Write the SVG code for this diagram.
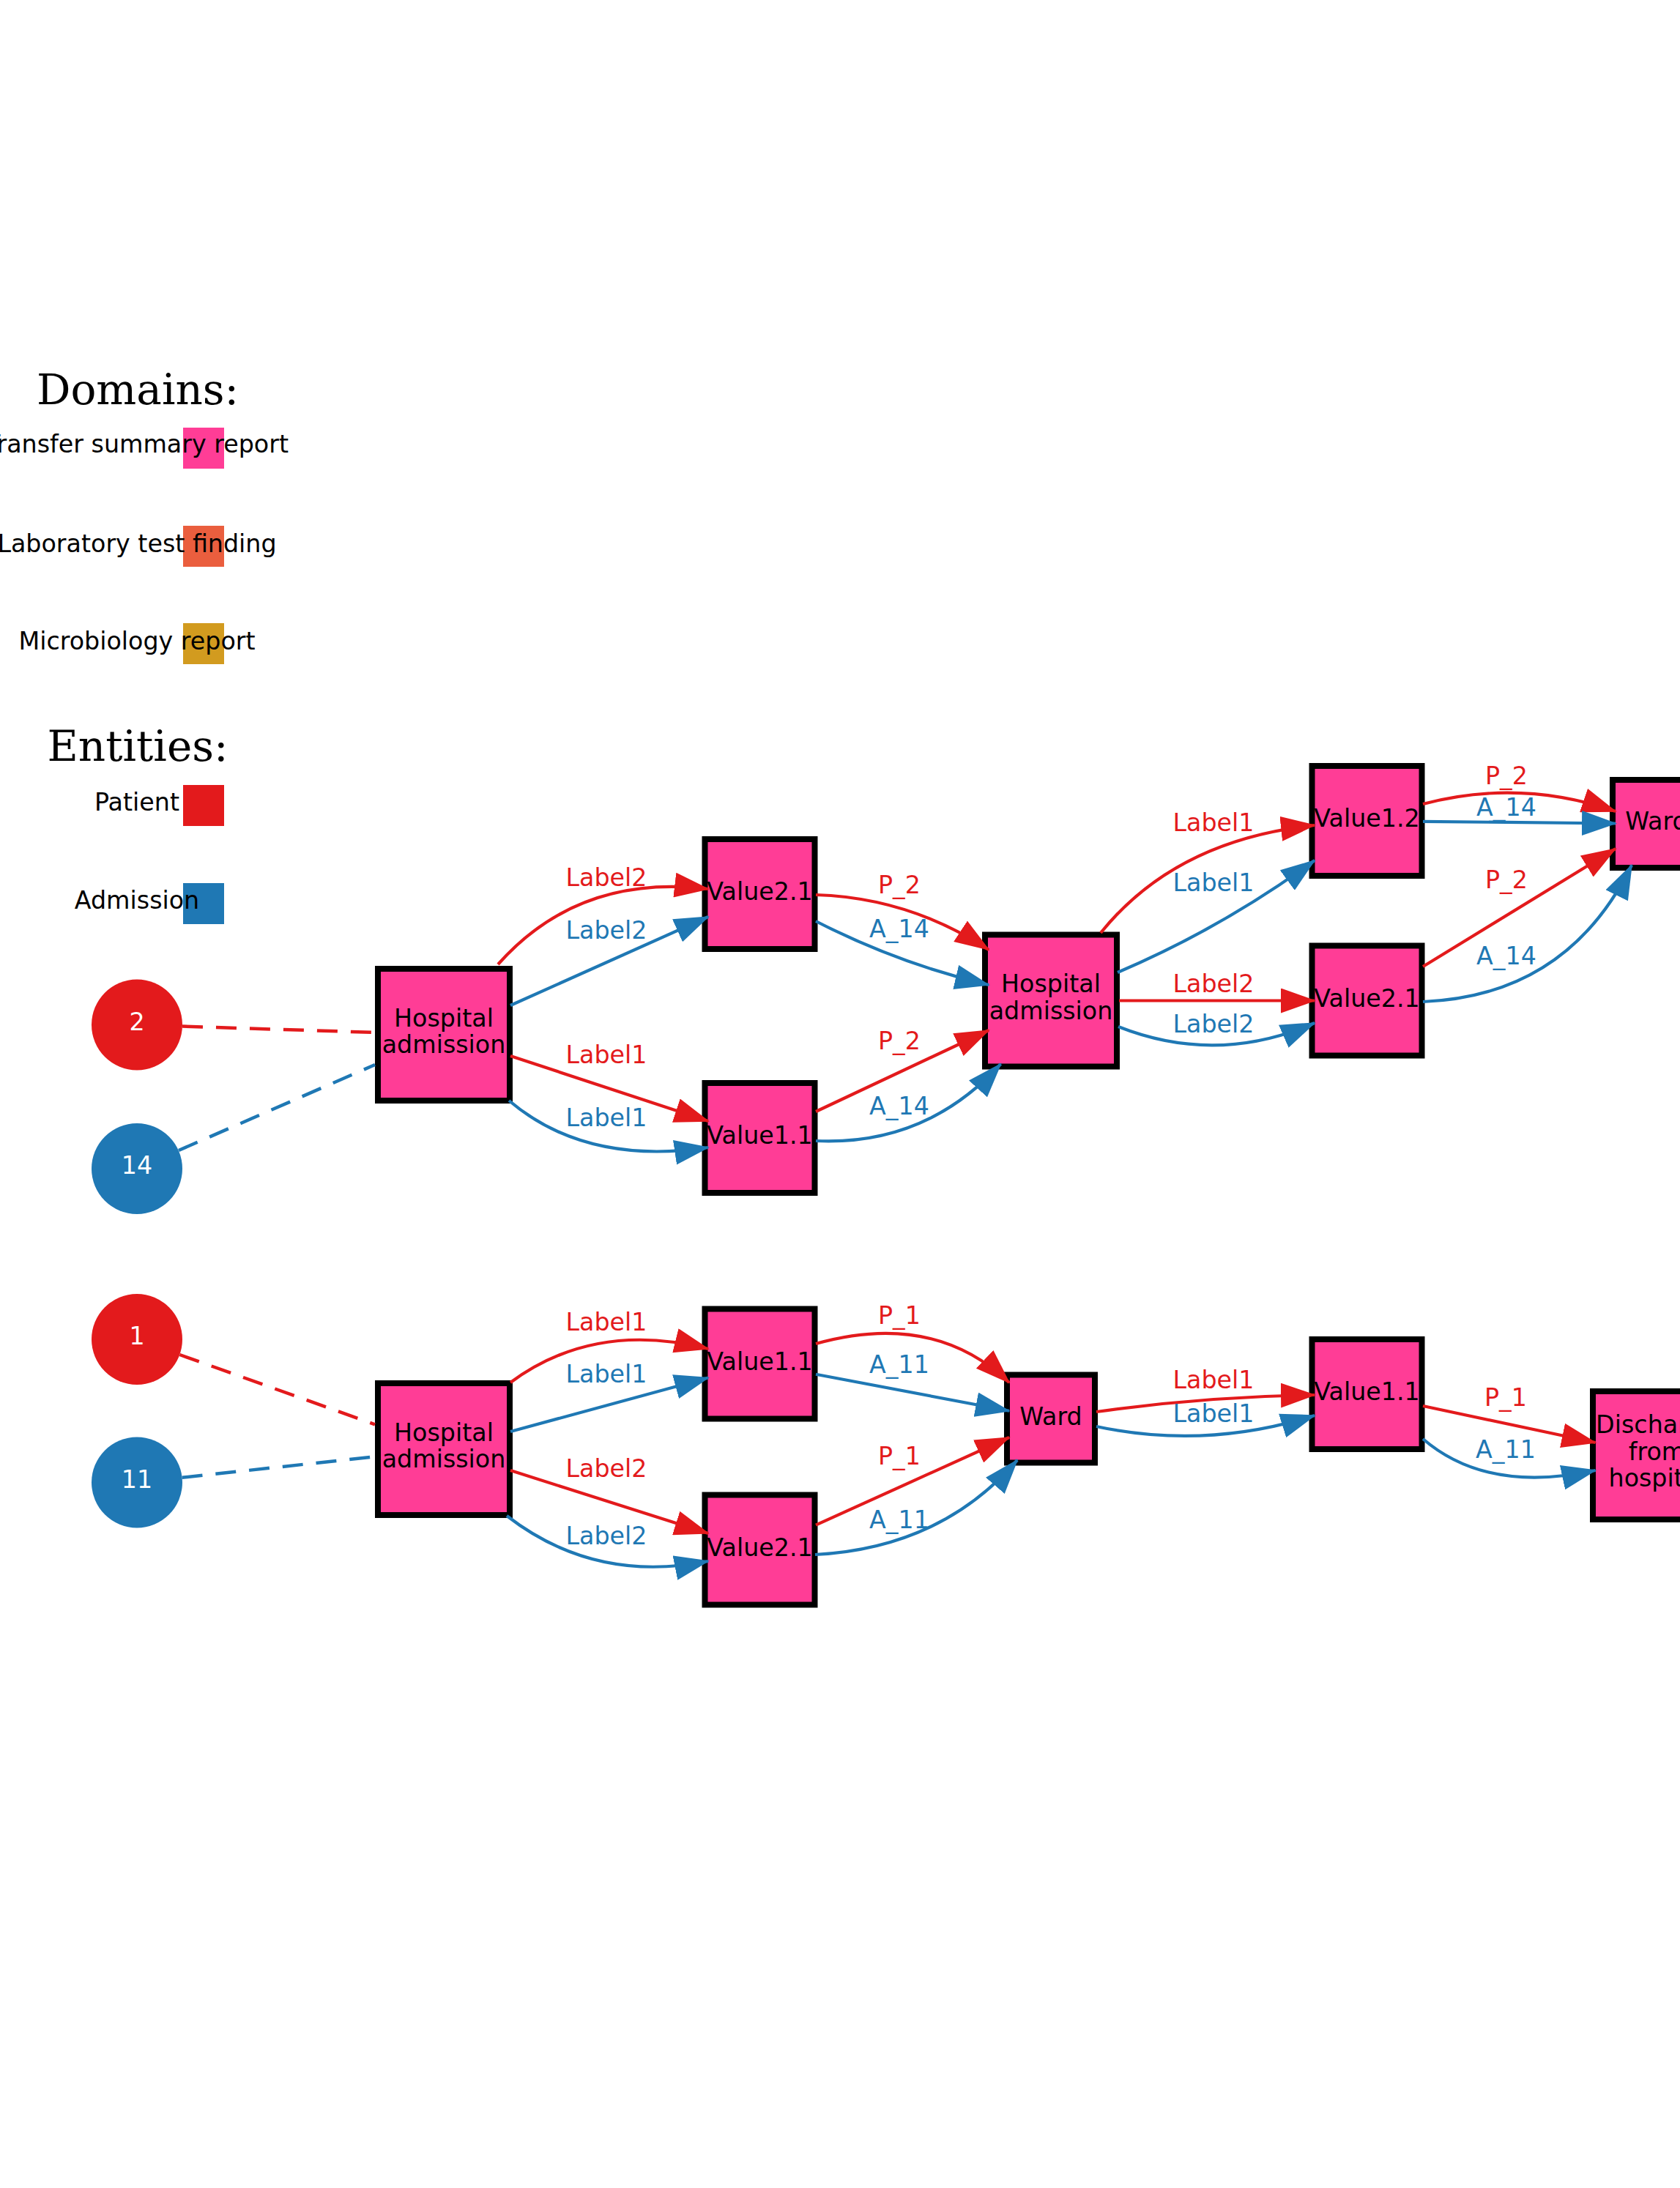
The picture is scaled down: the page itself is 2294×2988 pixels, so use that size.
<svg xmlns="http://www.w3.org/2000/svg" width="2294" height="2988" viewBox="0 0 2294 2988">
  <style>
    .title { font-family: "DejaVu Serif", "Liberation Serif", serif; font-size: 58px; text-anchor: middle; fill: #000; }
    .lt { font-family: "DejaVu Sans", "Liberation Sans", sans-serif; font-size: 33.3px; text-anchor: middle; fill: #000; }
    .box { fill: #ff3d96; stroke: #000; stroke-width: 8; }
    .nl { font-family: "DejaVu Sans", "Liberation Sans", sans-serif; font-size: 33.3px; text-anchor: middle; fill: #000; }
    .cl { font-family: "DejaVu Sans", "Liberation Sans", sans-serif; font-size: 33.3px; text-anchor: middle; fill: #fff; }
    .e { fill: none; stroke-width: 4.2; }
    .p { stroke: #e31a1c; marker-end: url(#hp); }
    .a { stroke: #1f78b4; marker-end: url(#ha); }
    .dp { fill: none; stroke: #e31a1c; stroke-width: 4.5; stroke-dasharray: 28 18; }
    .da { fill: none; stroke: #1f78b4; stroke-width: 4.5; stroke-dasharray: 28 18; }
    .el { font-family: "DejaVu Sans", "Liberation Sans", sans-serif; font-size: 33.3px; text-anchor: middle; }
    .lp { fill: #e31a1c; }
    .la { fill: #1f78b4; }
  </style>
  <defs>
    <marker id="hp" markerUnits="userSpaceOnUse" markerWidth="48" markerHeight="34" viewBox="0 0 48 34" refX="46" refY="17" orient="auto">
      <path d="M0,0L48,17L0,34z" fill="#e31a1c"/>
    </marker>
    <marker id="ha" markerUnits="userSpaceOnUse" markerWidth="48" markerHeight="34" viewBox="0 0 48 34" refX="46" refY="17" orient="auto">
      <path d="M0,0L48,17L0,34z" fill="#1f78b4"/>
    </marker>
  </defs>
  <rect width="2294" height="2988" fill="#fff"/>

  <!-- legend -->
  <g id="legend">
    <text class="title" x="188" y="552">Domains:</text>
    <rect x="250" y="584" width="56" height="56" fill="#ff3d96"/>
    <rect x="250" y="718" width="56" height="56" fill="#ea5e3e"/>
    <rect x="250" y="851" width="56" height="56" fill="#d29b1f"/>
    <text class="lt" x="187" y="618">Transfer summary report</text>
    <text class="lt" x="187" y="754">Laboratory test finding</text>
    <text class="lt" x="187" y="887">Microbiology report</text>
    <text class="title" x="188" y="1039">Entities:</text>
    <rect x="250" y="1072" width="56" height="56" fill="#e31a1c"/>
    <rect x="250" y="1206" width="56" height="56" fill="#1f78b4"/>
    <text class="lt" x="187" y="1107">Patient</text>
    <text class="lt" x="187" y="1241">Admission</text>
  </g>

  <!-- entity nodes -->
  <g id="patient-2"><circle cx="187" cy="1399.5" r="62" fill="#e31a1c"/><text class="cl" x="187" y="1406.5">2</text></g>
  <g id="admission-14"><circle cx="187" cy="1596" r="62" fill="#1f78b4"/><text class="cl" x="187" y="1603">14</text></g>
  <g id="patient-1"><circle cx="187" cy="1829" r="62" fill="#e31a1c"/><text class="cl" x="187" y="1836">1</text></g>
  <g id="admission-11"><circle cx="187" cy="2024.5" r="62" fill="#1f78b4"/><text class="cl" x="187" y="2031.5">11</text></g>

  <!-- event nodes, upper trace -->
  <g id="hosp-adm-a"><rect class="box" x="516" y="1323" width="180" height="180"/><text class="nl" x="606" y="1401.7">Hospital</text><text class="nl" x="606" y="1438.3">admission</text></g>
  <g id="value21-a"><rect class="box" x="962.5" y="1146" width="150" height="150"/><text class="nl" x="1037.5" y="1229">Value2.1</text></g>
  <g id="value11-a"><rect class="box" x="962.5" y="1479" width="150" height="150"/><text class="nl" x="1037.5" y="1562">Value1.1</text></g>
  <g id="hosp-adm-b"><rect class="box" x="1345" y="1276.5" width="180" height="180"/><text class="nl" x="1435" y="1355.2">Hospital</text><text class="nl" x="1435" y="1391.8">admission</text></g>
  <g id="value12-b"><rect class="box" x="1791.5" y="1046" width="150" height="150"/><text class="nl" x="1866.5" y="1129">Value1.2</text></g>
  <g id="value21-b"><rect class="box" x="1791.5" y="1291.5" width="150" height="150"/><text class="nl" x="1866.5" y="1374.5">Value2.1</text></g>
  <g id="ward-b"><rect class="box" x="2202" y="1065" width="120" height="120"/><text class="nl" x="2262" y="1133">Ward</text></g>

  <!-- event nodes, lower trace -->
  <g id="hosp-adm-c"><rect class="box" x="516" y="1889" width="180" height="180"/><text class="nl" x="606" y="1967.7">Hospital</text><text class="nl" x="606" y="2004.3">admission</text></g>
  <g id="value11-c"><rect class="box" x="962.5" y="1787.5" width="150" height="150"/><text class="nl" x="1037.5" y="1870.5">Value1.1</text></g>
  <g id="value21-c"><rect class="box" x="962.5" y="2041.5" width="150" height="150"/><text class="nl" x="1037.5" y="2124.5">Value2.1</text></g>
  <g id="ward-c"><rect class="box" x="1375" y="1877.5" width="120" height="120"/><text class="nl" x="1435" y="1945.5">Ward</text></g>
  <g id="value11-d"><rect class="box" x="1791.5" y="1829" width="150" height="150"/><text class="nl" x="1866.5" y="1912">Value1.1</text></g>
  <g id="discharge-d"><rect class="box" x="2175" y="1900" width="175" height="175"/><text class="nl" x="2262.5" y="1957">Discharge</text><text class="nl" x="2262.5" y="1993.5">from</text><text class="nl" x="2262.5" y="2030">hospital</text></g>

  <!-- connectors -->
  <g id="connectors">
    <path class="dp" d="M249,1401.5 L512,1410"/>
    <path class="da" d="M244,1571 L512,1454"/>
    <path class="dp" d="M245.4,1850 L512,1945.4"/>
    <path class="da" d="M248.6,2017.8 L512,1989.2"/>

    <path class="e p" d="M680,1317 Q790,1193 967,1214"/>
    <path class="e a" d="M697,1373 L967,1252"/>
    <path class="e p" d="M697,1442 L967,1531"/>
    <path class="e a" d="M695,1503 Q800,1592 967,1567"/>
    <path class="e p" d="M1114,1222 Q1242,1226 1350,1297"/>
    <path class="e a" d="M1114,1258 Q1227,1316 1350,1345"/>
    <path class="e p" d="M1114,1518 L1350,1407"/>
    <path class="e a" d="M1114,1558 Q1264,1565 1366.5,1453"/>
    <path class="e p" d="M1503,1274 Q1605,1147 1795,1127"/>
    <path class="e a" d="M1526,1328 Q1669,1267 1795,1175"/>
    <path class="e p" d="M1528,1366.5 L1795,1366.5"/>
    <path class="e a" d="M1527,1402 Q1661,1455 1795,1397"/>
    <path class="e p" d="M1943,1098 Q2075,1063 2206,1108"/>
    <path class="e a" d="M1943,1121.8 L2206,1124.5"/>
    <path class="e p" d="M1943,1320 L2206,1159"/>
    <path class="e a" d="M1943,1368 Q2140,1360 2228,1181.5"/>

    <path class="e p" d="M697,1888 Q812,1803 967,1842"/>
    <path class="e a" d="M697,1955 L967,1881.5"/>
    <path class="e p" d="M697,2008 L967,2094"/>
    <path class="e a" d="M692,2070 Q812,2163 967,2132"/>
    <path class="e p" d="M1114,1835 Q1275,1790 1378,1888"/>
    <path class="e a" d="M1114,1876.7 L1378,1926.8"/>
    <path class="e p" d="M1114,2082.7 L1378,1963"/>
    <path class="e a" d="M1113,2123 Q1285,2114 1389,1994"/>
    <path class="e p" d="M1497,1928 Q1646,1907 1795,1905"/>
    <path class="e a" d="M1497,1948 Q1646,1980 1795,1933"/>
    <path class="e p" d="M1943,1920 L2178.5,1970"/>
    <path class="e a" d="M1943,1965 Q2030,2040 2178.5,2008"/>

    <text class="el lp" x="828" y="1210">Label2</text>
    <text class="el la" x="828" y="1281.7">Label2</text>
    <text class="el lp" x="828" y="1451.7">Label1</text>
    <text class="el la" x="828" y="1538.3">Label1</text>
    <text class="el lp" x="1228" y="1220">P_2</text>
    <text class="el la" x="1228" y="1280">A_14</text>
    <text class="el lp" x="1228" y="1433.3">P_2</text>
    <text class="el la" x="1228" y="1521.7">A_14</text>
    <text class="el lp" x="1657" y="1135">Label1</text>
    <text class="el la" x="1657" y="1217.3">Label1</text>
    <text class="el lp" x="1657" y="1355">Label2</text>
    <text class="el la" x="1657" y="1410">Label2</text>
    <text class="el lp" x="2057" y="1071">P_2</text>
    <text class="el la" x="2057" y="1113.7">A_14</text>
    <text class="el lp" x="2057" y="1213">P_2</text>
    <text class="el la" x="2057" y="1317">A_14</text>

    <text class="el lp" x="828" y="1817.3">Label1</text>
    <text class="el la" x="828" y="1888.3">Label1</text>
    <text class="el lp" x="828" y="2017.3">Label2</text>
    <text class="el la" x="828" y="2109.3">Label2</text>
    <text class="el lp" x="1228" y="1808.3">P_1</text>
    <text class="el la" x="1228" y="1875">A_11</text>
    <text class="el lp" x="1228" y="2000">P_1</text>
    <text class="el la" x="1228" y="2086.7">A_11</text>
    <text class="el lp" x="1657" y="1896">Label1</text>
    <text class="el la" x="1657" y="1942">Label1</text>
    <text class="el lp" x="2056" y="1920">P_1</text>
    <text class="el la" x="2056" y="1991">A_11</text>
  </g>
</svg>
